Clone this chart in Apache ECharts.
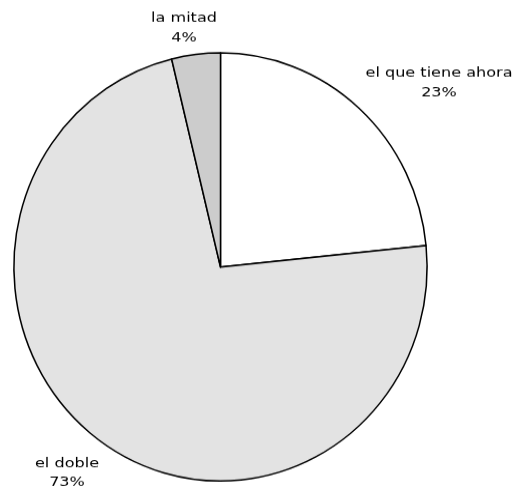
<!DOCTYPE html>
<html>
<head>
<meta charset="utf-8">
<script src="https://cdn.jsdelivr.net/npm/echarts@6/dist/echarts.min.js"></script>
<style>
  html, body { margin: 0; padding: 0; background: #ffffff; }
  #frame { width: 514px; height: 490px; position: relative; }
  /* the pie is drawn slightly taller than wide */
  #chart { position: absolute; left: 0; top: 0; width: 514px; height: 473px;
           transform: scaleY(1.036); transform-origin: 0 0; }
</style>
</head>
<body>
<div id="frame"><div id="chart"></div></div>
<script>
// Answer categories, in clockwise order starting at 12 o'clock
const categories = ['el que tiene ahora', 'el doble', 'la mitad'];
// Share of responses (percent)
const shares = [23.4, 72.8, 3.8];
const sliceColors = ['#ffffff', '#e3e3e3', '#cccccc'];

const STRETCH_Y = 1.036;
// Centre of each two-line label, in page pixels
const labelSpots = [[439, 83], [67, 473], [184, 28]];

const total = shares.reduce((a, b) => a + b, 0);
const labelTexts = categories.map((name, i) =>
  name + '\n' + Math.round(shares[i] / total * 100) + '%');

const chart = echarts.init(document.getElementById('chart'));
chart.setOption({
  animation: false,
  backgroundColor: '#ffffff',
  series: [{
    type: 'pie',
    center: [220.5, 257.7],
    radius: [0, 206.6],
    startAngle: 90,
    clockwise: true,
    data: categories.map((name, i) => ({
      name: name,
      value: shares[i],
      itemStyle: { color: sliceColors[i] }
    })),
    itemStyle: { borderColor: '#000000', borderWidth: 1.5 },
    label: { show: false },
    labelLine: { show: false },
    emphasis: { disabled: true }
  }],
  graphic: labelTexts.map((txt, i) => ({
    type: 'text',
    x: labelSpots[i][0],
    y: labelSpots[i][1] / STRETCH_Y,
    scaleX: 1.2,
    scaleY: 1 / STRETCH_Y,
    silent: true,
    style: {
      text: txt,
      fontFamily: 'DejaVu Sans',
      fontSize: 13.4,
      fill: '#000000',
      align: 'center',
      verticalAlign: 'middle',
      lineHeight: 19.5
    }
  }))
});
</script>
</body>
</html>
